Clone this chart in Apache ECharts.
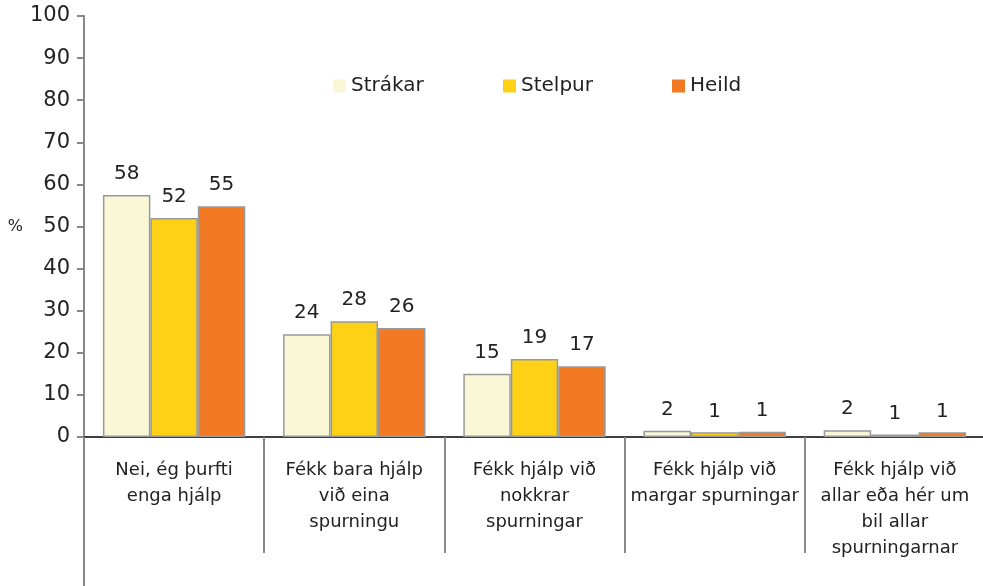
<!DOCTYPE html>
<html>
<head>
<meta charset="utf-8">
<script src="https://cdn.jsdelivr.net/npm/echarts@6/dist/echarts.min.js"></script>
<style>
  html, body { margin: 0; padding: 0; background: #fff; }
  #chart { width: 983px; height: 586px; }
</style>
</head>
<body>
<div id="chart"></div>
<script>
// gögn
const categories = [
  "Nei, ég þurfti\nenga hjálp",
  "Fékk bara hjálp\nvið eina\nspurningu",
  "Fékk hjálp við\nnokkrar\nspurningar",
  "Fékk hjálp við\nmargar spurningar",
  "Fékk hjálp við\nallar eða hér um\nbil allar\nspurningarnar"
];
const strakar = [57.5, 24.4, 15.0, 1.5, 1.6];
const stelpur = [52.0, 27.5, 18.5, 1.1, 0.6];
const heild = [54.8, 25.9, 16.8, 1.25, 1.1];
const seriesNames = ["Strákar", "Stelpur", "Heild"];
const colors = ["#F9F7D6", "#FCD116", "#F27A24"];

const font = "DejaVu Sans";
const txt = "#222";
const axisGray = "#888";

function barSeries(name, data, color) {
  return {
    name: name,
    type: "bar",
    data: data,
    barGap: "0%",
    barCategoryGap: "21%",
    itemStyle: {
      color: color,
      borderColor: "#999",
      borderWidth: 1.5
    },
    label: {
      show: true,
      position: "top",
      distance: 11,
      fontFamily: font,
      fontSize: 20,
      color: txt,
      formatter: (p) => Math.round(p.value)
    }
  };
}

// ein legend fyrir hvern lið svo bilin verði jöfn
const legendLeft = [333, 503, 672];
const legends = seriesNames.map((n, i) => ({
  left: legendLeft[i],
  top: 76,
  padding: 0,
  icon: "rect",
  itemWidth: 13,
  itemHeight: 13,
  itemStyle: { borderWidth: 0 },
  textStyle: { fontFamily: font, fontSize: 20, color: txt },
  data: [n]
}));

const chart = echarts.init(document.getElementById("chart"));
chart.setOption({
  animation: false,
  textStyle: { fontFamily: font },
  legend: legends,
  grid: [
    { left: 84, right: -2, top: 16, bottom: 149, outerBoundsMode: "none" },
    // framlenging á y-ás niður fyrir núllið
    { left: 84, width: 10, top: 437, bottom: 0, outerBoundsMode: "none" }
  ],
  xAxis: [
    {
      type: "category",
      data: categories,
      axisLine: { lineStyle: { color: "#000", width: 1.5 } },
      axisTick: {
        show: true,
        interval: 0,
        length: 116,
        lineStyle: { color: axisGray, width: 2 }
      },
      axisLabel: {
        interval: 0,
        margin: 20,
        fontFamily: font,
        fontSize: 18,
        lineHeight: 26,
        color: txt
      }
    },
    { gridIndex: 1, type: "value", show: false }
  ],
  yAxis: [
    {
      type: "value",
      min: 0,
      max: 100,
      interval: 10,
      name: "%",
      nameLocation: "middle",
      nameRotate: 0,
      nameGap: 61,
      nameTextStyle: { fontFamily: font, fontSize: 16, color: txt },
      splitLine: { show: false },
      axisLine: { show: true, lineStyle: { color: axisGray, width: 2 } },
      axisTick: { show: true, length: 7, lineStyle: { color: axisGray, width: 2 } },
      axisLabel: { margin: 14, fontFamily: font, fontSize: 21, color: txt }
    },
    {
      gridIndex: 1,
      type: "value",
      axisLine: { show: true, lineStyle: { color: axisGray, width: 2 } },
      axisTick: { show: false },
      axisLabel: { show: false },
      splitLine: { show: false }
    }
  ],
  series: seriesNames.map((n, i) =>
    barSeries(n, [strakar, stelpur, heild][i], colors[i])
  )
});
</script>
</body>
</html>
